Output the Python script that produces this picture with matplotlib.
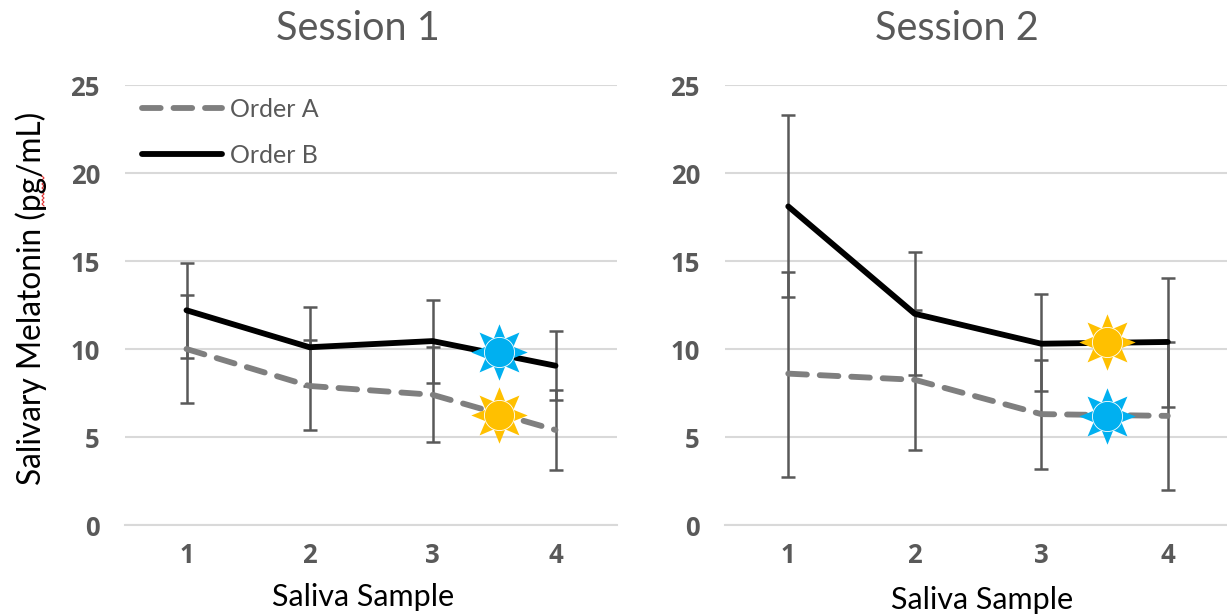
import numpy as np
import matplotlib
matplotlib.use("Agg")
import matplotlib.pyplot as plt
from matplotlib.path import Path

plt.rcParams['font.family'] = ['Lato', 'DejaVu Sans']

samples = [1, 2, 3, 4]
yticks = [0, 5, 10, 15, 20, 25]

# session 1
s1_a = [10.0, 7.9, 7.4, 5.4]
s1_a_hi = [13.05, 10.5, 10.1, 7.65]
s1_a_lo = [6.95, 5.4, 4.7, 3.15]
s1_b = [12.2, 10.1, 10.45, 9.05]
s1_b_hi = [14.9, 12.4, 12.8, 11.05]
s1_b_lo = [9.5, 7.9, 8.05, 7.1]

# session 2
s2_a = [8.6, 8.25, 6.3, 6.2]
s2_a_hi = [14.35, 12.2, 9.4, 10.4]
s2_a_lo = [2.75, 4.25, 3.2, 2.0]
s2_b = [18.1, 12.0, 10.3, 10.4]
s2_b_hi = [23.3, 15.5, 13.1, 14.05]
s2_b_lo = [12.95, 8.5, 7.6, 6.7]

# sun markers: x, y
s1_blue_sun = (3.54, 9.85)
s1_yellow_sun = (3.54, 6.25)
s2_yellow_sun = (3.52, 10.4)
s2_blue_sun = (3.52, 6.2)

gray = '#595959'
W, H = 1227, 614


def spikes():
    # eight triangles around the centre, unit outer radius
    verts = []
    codes = []
    for ang in np.arange(8) * np.pi / 4:
        u = np.array([np.cos(ang), np.sin(ang)])
        n = np.array([-u[1], u[0]])
        verts += [u, 0.45 * u + 0.22 * n, 0.45 * u - 0.22 * n, u]
        codes += [Path.MOVETO, Path.LINETO, Path.LINETO, Path.CLOSEPOLY]
    return Path(verts, codes)


def sun(ax, pos, col):
    ax.scatter([pos[0]], [pos[1]], s=1650, marker=spikes(), color=col, linewidths=0, zorder=6)
    ax.scatter([pos[0]], [pos[1]], s=470, marker='o', color=col, edgecolors='white', linewidths=0.6, zorder=7)


def panel(rect, xmax, a, a_hi, a_lo, b, b_hi, b_lo):
    ax = fig.add_axes([rect[0] / W, 1 - 525 / H, (rect[1] - rect[0]) / W, 440 / H])
    for vals, hi, lo in ((a, a_hi, a_lo), (b, b_hi, b_lo)):
        vals = np.array(vals)
        err = [vals - np.array(lo), np.array(hi) - vals]
        ax.errorbar(samples, vals, yerr=err, fmt='none', ecolor=gray, elinewidth=1.8,
                    capsize=5, capthick=1.8, zorder=3)
    ax.plot(samples, a, color='#7f7f7f', lw=4.2, linestyle=(0, (3.2, 2.2)),
            dash_capstyle='round', label='Order A', zorder=4)
    ax.plot(samples, b, color='black', lw=4.2, solid_capstyle='round', label='Order B', zorder=5)
    ax.set_xlim(0.5, xmax)
    ax.set_ylim(0, 25)
    ax.set_xticks(samples)
    ax.set_yticks(yticks)
    ax.grid(axis='y', color='#d9d9d9', lw=1.5)
    ax.set_axisbelow(True)
    ax.tick_params(length=0, labelsize=18.5, labelcolor=gray, pad=12)
    ax.tick_params(axis='y', pad=18)
    for lab in ax.get_xticklabels() + ax.get_yticklabels():
        lab.set_fontweight('bold')
        lab.set_family(['Open Sans', 'DejaVu Sans'])
    for name, sp in ax.spines.items():
        sp.set_visible(name == 'bottom')
    ax.spines['bottom'].set_color('#d9d9d9')
    ax.spines['bottom'].set_linewidth(1.5)
    ax.patch.set_alpha(0)
    return ax


fig = plt.figure(figsize=(W / 100, H / 100), dpi=100)

ax1 = panel((125, 617), 4.5, s1_a, s1_a_hi, s1_a_lo, s1_b, s1_b_hi, s1_b_lo)
ax2 = panel((725, 1227), 4.468, s2_a, s2_a_hi, s2_a_lo, s2_b, s2_b_hi, s2_b_lo)

sun(ax1, s1_blue_sun, '#00b0f0')
sun(ax1, s1_yellow_sun, '#ffc000')
sun(ax2, s2_yellow_sun, '#ffc000')
sun(ax2, s2_blue_sun, '#00b0f0')

ax1.legend(loc='upper left', bbox_to_anchor=(0.035, 0.97), frameon=False, fontsize=18,
           labelcolor=gray, handlelength=3.2, handletextpad=0.32, labelspacing=0.9,
           borderpad=0, borderaxespad=0)

fig.text(358 / W, 1 - 29 / H, 'Session 1', fontsize=28.5, color=gray, ha='center', va='center')
fig.text(957 / W, 1 - 29 / H, 'Session 2', fontsize=28.5, color=gray, ha='center', va='center')
fig.text(363 / W, 1 - 597 / H, 'Saliva Sample', fontsize=22, color='black', ha='center', va='center')
fig.text(982 / W, 1 - 600 / H, 'Saliva Sample', fontsize=22, color='black', ha='center', va='center')
fig.text(31 / W, 1 - 298 / H, 'Salivary Melatonin (pg/mL)', fontsize=22.8, color='black',
         rotation=90, ha='center', va='center')

# spell-check squiggle under "pg"
sq_y = np.arange(176, 207, 2)
sq_x = 43 + np.where(np.arange(len(sq_y)) % 2 == 0, -1, 1)
fig.add_artist(plt.Line2D(sq_x / W, 1 - sq_y / H, color='#e03030', lw=0.8))

fig.savefig('out.png', dpi=100)
